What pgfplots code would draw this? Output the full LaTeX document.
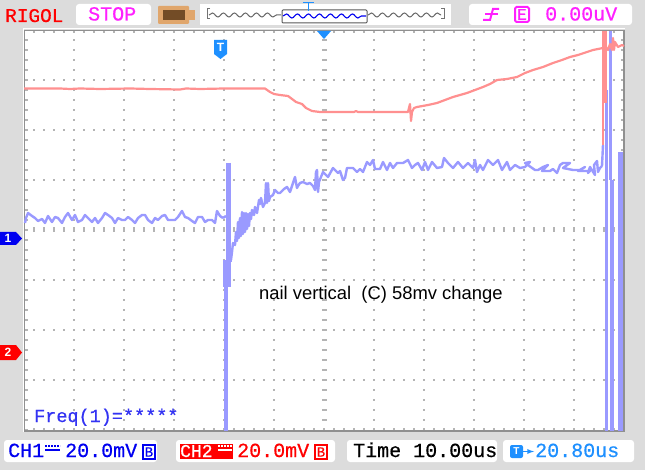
\documentclass[border=0pt]{standalone}
\usepackage{fontspec}
\setmainfont{Liberation Sans}
\newfontfamily\lcd{Liberation Mono}[FakeBold=0.6]
\usepackage{pgfplots}
\pgfplotsset{compat=1.18}
\usepackage{pgfplotstable}
\usetikzlibrary{decorations.pathmorphing}
\definecolor{bg}{HTML}{DCDCDC}
\definecolor{bluet}{HTML}{9A9AFF}
\definecolor{redt}{HTML}{FF9090}
\definecolor{gridc}{HTML}{B4B4B4}
\definecolor{trigb}{HTML}{1E90FF}
\definecolor{mag}{HTML}{FF20FF}
\definecolor{chb}{HTML}{0000F0}
\definecolor{chr}{HTML}{FF0000}
\pgfplotstableread{
x y
25 223
26 218
28 213
32 216
35 218
38 221
42 219
45 223
48 216
52 222
55 217
58 218
62 223
65 217
68 213
72 220
75 215
78 222
82 220
85 215
88 218
92 222
95 218
98 223
102 218
105 213
108 215
112 218
115 223
118 218
122 220
125 220
128 217
132 220
135 223
138 218
142 215
145 215
148 220
152 223
155 218
158 220
162 216
165 215
168 220
175 220
178 217
182 211
185 217
188 218
192 221
195 223
198 217
202 217
205 222
208 220
212 220
215 223
217 211
220 216
223 218
}\bluepre
\pgfplotstableread{
x y
231 260
232 252
233 243
235 245
236 232
237 241
238 222
239 238
240 218
241 236
242 212
243 234
244 213
245 232
246 213
247 229
248 214
249 226
250 213
251 219
252 210
254 215
255 207
257 213
259 200
260 204
261 198
263 207
265 203
266 183
267 203
268 183
269 201
270 197
273 195
275 190
278 193
280 193
284 189
287 187
290 192
293 183
295 177
297 188
298 186
300 183
303 182
307 184
310 183
313 186
315 190
316 172
317 170
318 192
319 182
323 172
328 177
333 168
338 173
340 171
343 180
345 178
347 168
353 168
357 172
360 169
363 172
367 162
370 165
373 160
375 169
380 169
383 162
387 170
390 163
393 168
397 163
403 163
408 160
412 168
415 165
418 163
422 170
425 162
428 170
432 162
437 168
442 167
444 158
448 163
453 168
458 162
463 168
468 163
473 168
475 160
477 172
480 165
483 170
488 160
493 165
498 160
502 170
507 162
510 170
515 165
520 168
525 167
530 162
525 163
535 170
538 170
543 167
548 165
542 171
550 171
553 169
557 173
560 165
563 163
570 163
563 168
573 170
580 170
585 167
578 171
590 171
588 173
590 167
595 175
594 165
597 161
598 172
600 168
602 166
}\bluepost
\pgfplotstableread{
x y
24 88.5
60 88.5
70 89
80 88.5
100 89
130 88.5
150 89
180 89.5
186 88.5
200 89
224 88.5
240 88.5
265 88.5
270 92
274 94
280 95
288 96
292 99
296 102
302 104
306 108
312 111
320 112
345 112
354 112
356 111
358 112
385 112
408 112
410 104
411 121
412 112
414 108
417 107
428 105
437 103
445 100
453 97
460 95
467 93
475 90
483 87
490 84
497 80
507 79
517 77
525 73
533 70
543 67
553 63
562 60
570 57
578 55
587 52
593 50
603 48
}\redpre
\pgfplotstableread{
x y
606 47
608 50
610 44
612 50
613 38
614 50
615 42
618 47
622 45
624 46
}\redpost
\begin{document}
\begin{tikzpicture}
\begin{axis}[x=1pt,y=1pt,xmin=0,xmax=645,ymin=0,ymax=470,y dir=reverse,axis lines=none,clip=false,
  axis background/.style={fill=bg}]
% top and bottom boxes
\path[fill=white,rounded corners=3pt] (76,4) rectangle (151,25);
\path[fill=white] (200,4) rectangle (451,25);
\path[fill=white,rounded corners=3pt] (469,4) rectangle (632,25);
\path[fill=white,rounded corners=3pt] (4,440) rectangle (157,462);
\path[fill=white,rounded corners=3pt] (176,440) rectangle (335,462);
\path[fill=white,rounded corners=3pt] (347,440) rectangle (497,462);
\path[fill=white,rounded corners=3pt] (503,440) rectangle (634,462);
% plot area
\path[fill=white] (24,30) rectangle (624,431);
\pgfplotsinvokeforeach{74,124,174,224,274,374,424,474,524,574}{
  \draw[gridc,line width=1.5pt,dash pattern=on 1.5pt off 8.5pt] (#1,39.3) -- (#1,430);
}
\pgfplotsinvokeforeach{80,130,180,280,330,380}{
  \draw[gridc,line width=1.5pt,dash pattern=on 1.5pt off 8.5pt] (33.3,#1) -- (624,#1);
}
\draw[gridc,line width=5pt,dash pattern=on 1.5pt off 8.5pt] (33.3,230) -- (620,230);
\draw[gridc,line width=5pt,dash pattern=on 1.5pt off 8.5pt] (324,39.3) -- (324,425);
% border
\draw[gridc,line width=3pt,dash pattern=on 1.5pt off 8.5pt] (33.3,32) -- (624,32);
\draw[gridc,line width=3pt,dash pattern=on 1.5pt off 8.5pt] (33.3,429) -- (624,429);
\draw[gridc,line width=3pt,dash pattern=on 1.5pt off 8.5pt] (26,39.3) -- (26,430);
\draw[gridc,line width=3pt,dash pattern=on 1.5pt off 8.5pt] (622,39.3) -- (622,430);
\draw[gridc!80!black,line width=1.6pt] (24.5,431) -- (24.5,30.5) -- (624,30.5) -- (624,431) -- cycle;
\draw[white,line width=1pt] (23,432) -- (23,29) -- (625,29);
% traces
\addplot[bluet,line width=2.4pt,line join=round] table[x=x,y=y] {\bluepre};
\addplot[bluet,line width=2.4pt,line join=round] table[x=x,y=y] {\bluepost};
\addplot[bluet,line width=5pt] coordinates {(228,163) (228,260)};
\addplot[bluet,line width=8pt] coordinates {(227,260) (227,287)};
\addplot[bluet,line width=4.5pt] coordinates {(226,287) (226,431)};
\addplot[bluet,line width=2.4pt] coordinates {(223,218) (226,216)};
\addplot[bluet,line width=2.4pt] coordinates {(231,262) (231,250)};
\addplot[bluet,line width=2.4pt] coordinates {(602,166) (603,145)};
\addplot[bluet,line width=2.6pt] coordinates {(606.7,90) (606.7,431)};
\addplot[bluet,line width=3pt] coordinates {(610,31) (610,180)};
\addplot[bluet,line width=3.6pt] coordinates {(612,180) (612,431)};
\addplot[bluet,line width=4.5pt] coordinates {(620.5,152) (620.5,431)};
\addplot[redt,line width=2.2pt,line join=round] table[x=x,y=y] {\redpre};
\addplot[redt,line width=2.2pt,line join=round] table[x=x,y=y] {\redpost};
\addplot[redt,line width=5pt] coordinates {(604,31) (604,103)};
\addplot[redt,line width=2.6pt] coordinates {(603,103) (603,145)};
% on-screen text
\node[anchor=base west,inner sep=0pt,font=\fontsize{18.4}{19}\selectfont] at (259,299) {nail vertical\ \ (C) 58mv change};
\node[anchor=base west,inner sep=0pt,text=chb!80!white,font=\lcd\fontsize{18.5}{20}\selectfont] at (34,422) {Freq(1)=*****};
\node[anchor=base west,inner sep=0pt,text=chr,font=\lcd\fontsize{19.4}{20}\selectfont] at (5,22) {RIGOL};
\node[anchor=base west,inner sep=0pt,text=mag,font=\lcd\fontsize{20}{20}\selectfont] at (88,20.5) {STOP};
\node[anchor=base west,inner sep=0pt,text=mag,font=\lcd\fontsize{20}{20}\selectfont] at (545,20.5) {0.00uV};
\draw[mag,line width=2pt] (483,20) -- (490,20) -- (493,9) -- (499,9);
\draw[mag,line width=1.5pt] (485,14) -- (498,14);
\draw[mag,line width=2pt,rounded corners=1.5pt] (515,7) rectangle (529,22);
\node[text=mag,inner sep=0pt,font=\lcd\fontsize{16}{16}\selectfont] at (522,14.5) {E};
% battery icon
\path[fill=brown!70!orange!70!white,rounded corners=1pt] (158,6) rectangle (189,24);
\path[fill=brown!70!orange!70!white] (189,10) rectangle (195,20);
\path[fill=brown!60!black] (163,10) rectangle (185,20);
% waveform strip
\draw[gray!90!black,line width=1pt] (210,8.5) -- (207,8.5) -- (207,19) -- (210,19);
\draw[gray!90!black,line width=1pt] (441,8.5) -- (444,8.5) -- (444,19) -- (441,19);
\draw[gray!80!black,line width=1pt,decorate,decoration={snake,amplitude=2pt,segment length=11pt}] (209,15) -- (281,15);
\draw[gray!80!black,line width=1pt,decorate,decoration={snake,amplitude=2pt,segment length=11pt}] (368,15) -- (441,15);
\draw[gray!70!black,line width=1pt,rounded corners=1pt] (282,10) rectangle (367,23);
\draw[chb,line width=1.1pt,decorate,decoration={snake,amplitude=2pt,segment length=11pt}] (283,16) -- (366,16);
\draw[trigb,line width=1.6pt] (303,2.5) -- (314,2.5) (308.5,2.5) -- (308.5,11);
% markers
\path[fill=trigb] (214,40) -- (227,40) -- (227,54) -- (220.5,59) -- (214,54) -- cycle;
\node[text=white,inner sep=0pt,font=\bfseries\fontsize{12}{12}\selectfont] at (220.5,47) {T};
\path[fill=trigb] (317,31) -- (331,31) -- (324,39) -- cycle;
\path[fill=chb] (0,232) -- (16,232) -- (22,238.5) -- (16,245) -- (0,245) -- cycle;
\node[text=white,inner sep=0pt,font=\bfseries\fontsize{12}{12}\selectfont] at (8,238.5) {1};
\path[fill=chr] (0,345) -- (16,345) -- (22,352.5) -- (16,360) -- (0,360) -- cycle;
\node[text=white,inner sep=0pt,font=\bfseries\fontsize{12}{12}\selectfont] at (8,352.5) {2};
% bottom row
\node[anchor=base west,inner sep=0pt,text=chb,font=\lcd\fontsize{20}{20}\selectfont] at (8,457) {CH1};
\draw[chb,line width=1.3pt] (45,450) -- (60,450);
\draw[chb,line width=1.3pt,dash pattern=on 2pt off 1pt] (45,446) -- (60,446);
\node[anchor=base west,inner sep=0pt,text=chb,font=\lcd\fontsize{20}{20}\selectfont] at (65,457) {20.0mV};
\draw[chb,line width=1.6pt] (143,445) rectangle (155,459);
\node[text=chb,inner sep=0pt,font=\lcd\fontsize{14}{14}\selectfont] at (149,452) {B};
\path[fill=chr] (180,443.5) rectangle (233,459);
\node[anchor=base west,inner sep=0pt,text=white,font=\lcd\fontsize{18}{18}\selectfont] at (180,457) {CH2};
\draw[white,line width=1.3pt] (218,450) -- (232,450);
\draw[white,line width=1.3pt,dash pattern=on 2pt off 1pt] (218,446) -- (232,446);
\node[anchor=base west,inner sep=0pt,text=chr,font=\lcd\fontsize{20}{20}\selectfont] at (237,457) {20.0mV};
\draw[chr,line width=1.6pt] (315,445) rectangle (327,459);
\node[text=chr,inner sep=0pt,font=\lcd\fontsize{14}{14}\selectfont] at (321,452) {B};
\node[anchor=base west,inner sep=0pt,text=black,font=\lcd\fontsize{20}{20}\selectfont] at (353,457) {Time 10.00us};
\path[fill=trigb,rounded corners=2pt] (510,445) rectangle (523,458);
\node[text=white,inner sep=0pt,font=\bfseries\fontsize{10}{10}\selectfont] at (516.5,451.5) {T};
\draw[trigb,line width=1.3pt,-latex] (523,451.5) -- (534,451.5);
\node[anchor=base west,inner sep=0pt,text=trigb,font=\lcd\fontsize{20}{20}\selectfont] at (535,457) {20.80us};
\end{axis}
\end{tikzpicture}
\end{document}
